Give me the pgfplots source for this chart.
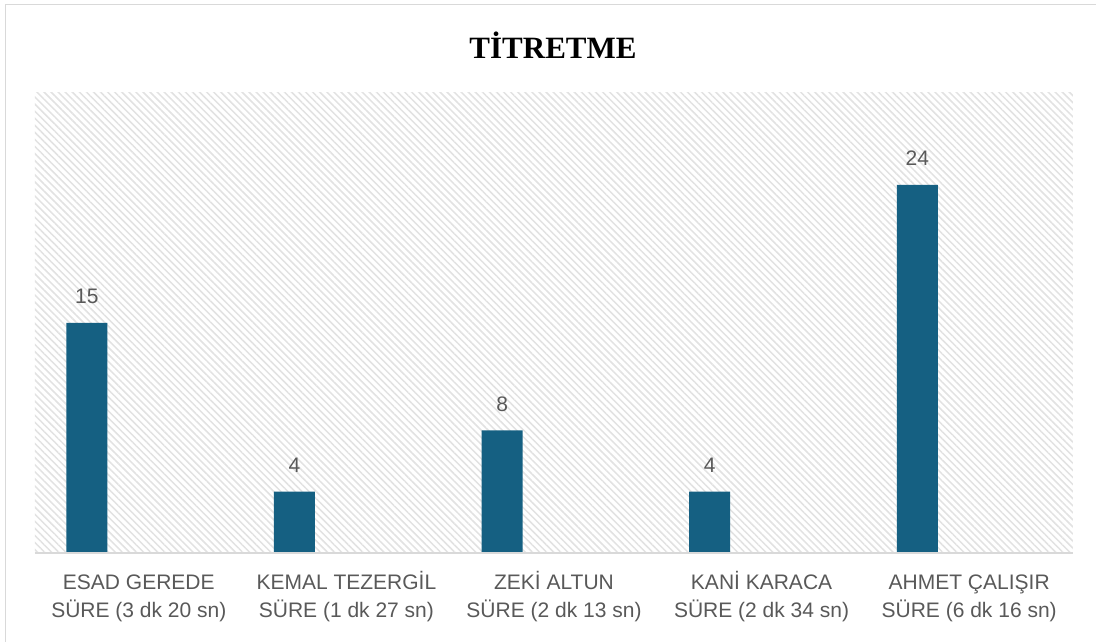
\documentclass[border=0pt]{standalone}
\usepackage{fontspec}
\setmainfont{Liberation Sans}
\newfontfamily\titlefont{Liberation Serif}
\usepackage{pgfplots}
\pgfplotsset{compat=1.18}
\usetikzlibrary{patterns.meta}
\definecolor{barblue}{HTML}{156082}
\definecolor{txtgray}{HTML}{595959}
\definecolor{linegray}{HTML}{D9D9D9}
\definecolor{hatchgray}{HTML}{E2E2E2}

\begin{document}
\begin{tikzpicture}[x=1pt,y=1pt]
  \path[use as bounding box] (0,0) rectangle (1096,642);
  \fill[white] (0,0) rectangle (1096,642);
  \draw[linegray, line width=1.5pt] (5.5,0) -- (5.5,637.5) -- (1096,637.5);
  \node[font=\titlefont\bfseries\fontsize{31}{36}\selectfont] at (553,597) {TİTRETME};
  \begin{axis}[
    at={(35pt,89pt)}, anchor=south west,
    scale only axis,
    width=1038pt, height=460pt,
    xmin=-0.5, xmax=4.5,
    ymin=0, ymax=30,
    axis line style={draw=none},
    axis x line*=bottom,
    hide y axis,
    ytick=\empty,
    xtick={0,1,2,3,4},
    xtick style={draw=none},
    xticklabels={
      {ESAD GEREDE\\SÜRE (3 dk 20 sn)},
      {KEMAL TEZERGİL\\SÜRE (1 dk 27 sn)},
      {ZEKİ ALTUN\\SÜRE (2 dk 13 sn)},
      {KANİ KARACA\\SÜRE (2 dk 34 sn)},
      {AHMET ÇALIŞIR\\SÜRE (6 dk 16 sn)}},
    xticklabel style={align=center, text=txtgray, anchor=base,
      font=\fontsize{21}{28}\selectfont, yshift=-65pt},
    axis background/.style={pattern={Lines[angle=-45,distance=5pt,line width=1.5pt]},
      pattern color=hatchgray},
    /pgf/number format/assume math mode=true,
    clip=false,
  ]
  \addplot[ybar, bar width=41pt, fill=barblue, draw=none,
    nodes near coords,
    every node near coord/.append style={anchor=base, inner sep=0pt, yshift=19pt,
      text=txtgray, font=\fontsize{21}{24}\selectfont}]
    coordinates {(-0.25,15) (0.75,4) (1.75,8) (2.75,4) (3.75,24)};
  \draw[linegray, line width=1.5pt] (axis cs:-0.5,0) -- (axis cs:4.5,0);
  \end{axis}
\end{tikzpicture}
\end{document}
